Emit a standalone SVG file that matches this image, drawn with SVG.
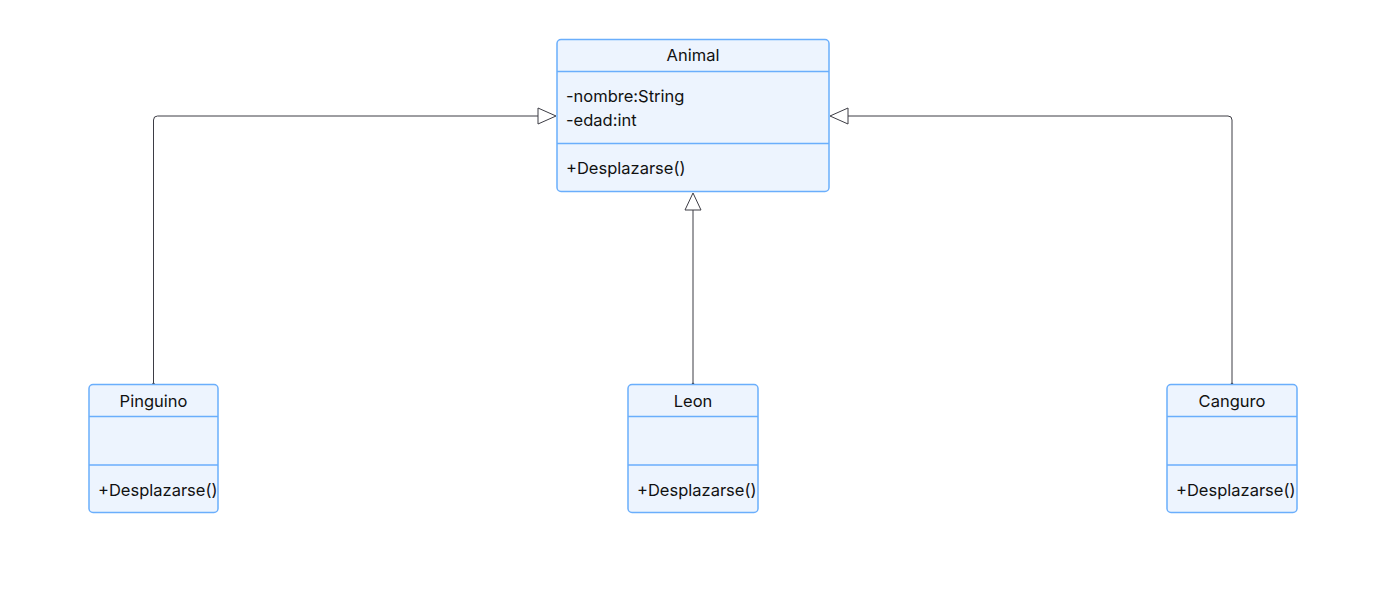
<svg xmlns="http://www.w3.org/2000/svg" width="1375" height="609" viewBox="0 0 1375 609">
<defs>
<style>
.box{fill:#edf4fe;stroke:#6aaefc;stroke-width:1.5}
.div{stroke:#6aaefc;stroke-width:1.5}
.t{font-family:Inter,"Liberation Sans",sans-serif;font-size:16.5px;fill:#111111}
.c{text-anchor:middle}
.edge{fill:none;stroke:#3d3d45;stroke-width:1}
.tri{fill:#ffffff;stroke:#3d3d45;stroke-width:1}
</style>
</defs>
<rect width="1375" height="609" fill="#ffffff"/>
<g id="connectors">
<path class="edge" d="M153.5 384 V120 Q153.5 116 157.5 116 H538"/>
<polygon class="tri" points="538,108 556,116 538,124"/>
<path class="edge" d="M693 384 V210"/>
<polygon class="tri" points="685,210 693,193 701,210"/>
<path class="edge" d="M1232 384 V120 Q1232 116 1228 116 H848"/>
<polygon class="tri" points="848,108 830,116 848,124"/>
<circle cx="153.5" cy="384" r="1.3" fill="#3d3d45"/>
<circle cx="693" cy="384" r="1.3" fill="#3d3d45"/>
<circle cx="1232" cy="384" r="1.3" fill="#3d3d45"/>
</g>
<g id="Animal">
<rect class="box" x="557" y="39.5" width="272" height="152" rx="4"/>
<line class="div" x1="557" y1="71.5" x2="829" y2="71.5"/>
<line class="div" x1="557" y1="143.5" x2="829" y2="143.5"/>
<text class="t c" x="693" y="61">Animal</text>
<text class="t" x="566" y="102">-nombre:String</text>
<text class="t" x="566" y="126">-edad:int</text>
<text class="t" x="566" y="174">+Desplazarse()</text>
</g>
<g id="Pinguino">
<rect class="box" x="89" y="384.5" width="129" height="128" rx="4"/>
<line class="div" x1="89" y1="416.5" x2="218" y2="416.5"/>
<line class="div" x1="89" y1="465" x2="218" y2="465"/>
<text class="t c" x="153.5" y="407">Pinguino</text>
<text class="t" x="98" y="496">+Desplazarse()</text>
</g>
<g id="Leon">
<rect class="box" x="628" y="384.5" width="130" height="128" rx="4"/>
<line class="div" x1="628" y1="416.5" x2="758" y2="416.5"/>
<line class="div" x1="628" y1="465" x2="758" y2="465"/>
<text class="t c" x="693" y="407">Leon</text>
<text class="t" x="637" y="496">+Desplazarse()</text>
</g>
<g id="Canguro">
<rect class="box" x="1167" y="384.5" width="130" height="128" rx="4"/>
<line class="div" x1="1167" y1="416.5" x2="1297" y2="416.5"/>
<line class="div" x1="1167" y1="465" x2="1297" y2="465"/>
<text class="t c" x="1232" y="407">Canguro</text>
<text class="t" x="1176" y="496">+Desplazarse()</text>
</g>
</svg>
